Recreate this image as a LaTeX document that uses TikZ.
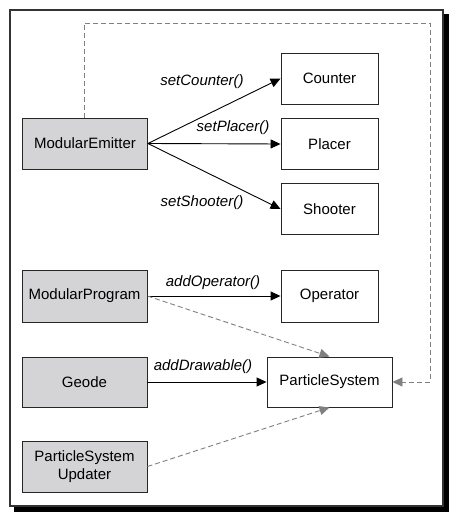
\documentclass[tikz,border=0pt]{standalone}
\usepackage{fontspec}
\setmainfont{Liberation Sans}
\usetikzlibrary{arrows.meta}
\definecolor{boxgray}{HTML}{D4D4D6}
\definecolor{dashgray}{HTML}{808080}
\tikzset{
  box/.style={draw=black!85, line width=0.9pt, minimum height=50pt, inner sep=2pt, align=center, font=\fontsize{15}{18}\selectfont},
  graybox/.style={box, fill=boxgray, minimum width=125pt},
  whitebox/.style={box, fill=white, minimum width=97pt},
  call/.style={draw=black, line width=0.9pt, -{Triangle[length=10pt,width=9pt]}},
  dep/.style={draw=dashgray, line width=0.9pt, dash pattern=on 5pt off 3pt, -{Triangle[length=10pt,width=9pt,fill=dashgray]}},
  lbl/.style={font=\fontsize{15}{18}\selectfont\itshape, inner sep=0pt}
}
\begin{document}
\begin{tikzpicture}[x=1pt,y=-1pt]
\useasboundingbox (0,0) rectangle (458,521);
% frame with shadow
\fill[black] (14,14) rectangle (449,512);
\draw[fill=white, draw=black!80, line width=1.2pt] (10,10) rectangle (443,506);

\node[graybox, minimum height=51pt] (emit) at (85,143.5) {ModularEmitter};
\node[whitebox, minimum height=51pt] (counter) at (329.5,78.5) {Counter};
\node[whitebox, minimum height=51pt] (placer) at (329.5,144) {Placer};
\node[whitebox, minimum height=51pt] (shooter) at (329.5,209) {Shooter};
\node[graybox, minimum height=52pt] (prog) at (84.5,296) {ModularProgram};
\node[whitebox, minimum height=52pt] (oper) at (329.5,296) {Operator};
\node[graybox] (geode) at (84.5,382) {Geode};
\node[box, fill=white, minimum width=125pt] (ps) at (329.5,382) {ParticleSystem};
\node[graybox, minimum height=51pt] (upd) at (84.5,466.5) {ParticleSystem\\Updater};

\coordinate (c1) at (84,23);
\coordinate (c2) at (430,23);
\coordinate (c3) at (430,382);

\draw[call] (emit.east) -- (counter.west);
\draw[call] (emit.east) -- (placer.west);
\draw[call] (emit.east) -- (shooter.west);
\draw[call] (prog.east) -- (oper.west);
\draw[call] (geode.east) -- (ps.west);

\draw[dep] (prog.east) -- (ps.north);
\draw[dep] (upd.east) -- (ps.south);
\draw[dep] (emit.north -| c1) -- (c1) -- (c2) -- (c3) -- (ps.east);

\node[lbl] (l1) at (202,82) {setCounter()};
\node[lbl] (l2) at (233,128) {setPlacer()};
\node[lbl] (l3) at (202,203) {setShooter()};
\node[lbl] (l4) at (213,283) {addOperator()};
\node[lbl] (l5) at (203,367) {addDrawable()};
\end{tikzpicture}
\end{document}
